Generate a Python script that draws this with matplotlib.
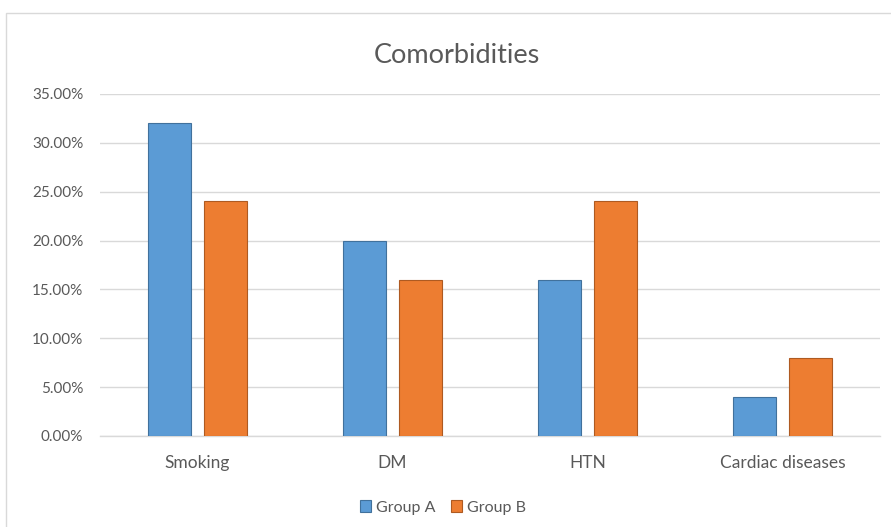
import numpy as np
import matplotlib.pyplot as plt
from matplotlib.patches import Rectangle
from matplotlib.ticker import PercentFormatter

categories = ["Smoking", "DM", "HTN", "Cardiac diseases"]
group_a = [32, 20, 16, 4]
group_b = [24, 16, 24, 8]
series_names = ["Group A", "Group B"]

plt.rcParams['font.family'] = ['Lato', 'DejaVu Sans']
txt = "#595959"

fig = plt.figure(figsize=(8.91, 5.27), dpi=100)
ax = fig.add_axes([0.112, 0.1727, 0.876, 0.649])

x = np.arange(len(categories))
w = 0.22
ax.bar(x - 0.144, group_a, w, color="#5b9bd5", edgecolor="#41719c", linewidth=0.8, label=series_names[0], zorder=3)
ax.bar(x + 0.144, group_b, w, color="#ed7d31", edgecolor="#ae5a21", linewidth=0.8, label=series_names[1], zorder=3)

ax.set_xlim(-0.5, len(categories) - 0.5)
ax.set_ylim(0, 35)
ax.set_yticks(np.arange(0, 36, 5))
ax.yaxis.set_major_formatter(PercentFormatter(decimals=2))
ax.grid(axis="y", color="#d9d9d9", linewidth=1, zorder=0)
for s in ["top", "right", "left"]:
    ax.spines[s].set_visible(False)
ax.spines["bottom"].set_color("#d9d9d9")
ax.spines["bottom"].set_linewidth(1)
ax.tick_params(length=0, colors=txt)
ax.tick_params(axis="x", pad=14, labelsize=12.5)
ax.tick_params(axis="y", pad=12, labelsize=11)
ax.set_xticks(x)
ax.set_xticklabels(categories)

fig.text(0.513, 0.895, "Comorbidities", ha="center", va="center", fontsize=19.5, color=txt)

leg = fig.legend(loc="center", bbox_to_anchor=(0.497, 0.037), ncol=2, frameon=False,
                 fontsize=11.5, handlelength=0.7, handleheight=0.7, handletextpad=0.3,
                 columnspacing=1.0, labelcolor=txt)

fig.patches.append(Rectangle((6 / 891, -0.1), 1.2, 1 - 13 / 527 + 0.1, transform=fig.transFigure,
                             fill=False, edgecolor="#d9d9d9", linewidth=1))

fig.savefig("out.png", dpi=100)
